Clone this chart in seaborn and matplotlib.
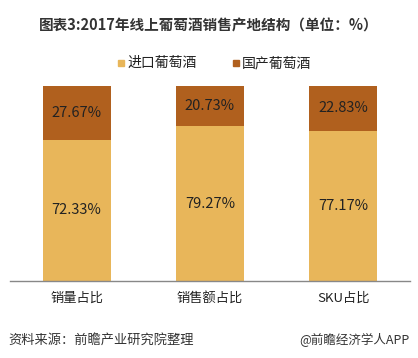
import pandas as pd
import matplotlib.pyplot as plt
import seaborn as sns

# data
categories = ["销量占比", "销售额占比", "SKU占比"]
imported = [72.33, 79.27, 77.17]
domestic = [27.67, 20.73, 22.83]

df = pd.DataFrame({"cat": categories, "imported": imported, "domestic": domestic})
df["total"] = df["imported"] + df["domestic"]

sns.set_style("white")
plt.rcParams["font.family"] = ["Noto Sans CJK SC", "DejaVu Sans"]

c_imp = "#E8B65A"
c_dom = "#B0601E"

fig = plt.figure(figsize=(4.18, 3.58), dpi=100)
ax = fig.add_axes([10 / 418, 77 / 358, 400 / 418, 195 / 358])

# stacked: draw total in domestic colour, then imported on top
sns.barplot(data=df, x="cat", y="total", color=c_dom, width=0.51, ax=ax,
            saturation=1, linewidth=0)
sns.barplot(data=df, x="cat", y="imported", color=c_imp, width=0.51, ax=ax,
            saturation=1, linewidth=0)

for i, row in df.iterrows():
    ax.text(i, row["imported"] / 2, f"{row['imported']:.2f}%", ha="center", va="center",
            fontsize=10.5, color="#222222")
    ax.text(i, row["imported"] + row["domestic"] / 2, f"{row['domestic']:.2f}%",
            ha="center", va="center", fontsize=10.5, color="#222222")

ax.set_xlim(-0.5, 2.5)
ax.set_ylim(0, 100)
ax.set_xlabel("")
ax.set_ylabel("")
ax.set_yticks([])
for s in ["top", "right", "left"]:
    ax.spines[s].set_visible(False)
ax.spines["bottom"].set_color("#888888")
ax.spines["bottom"].set_linewidth(1)
ax.tick_params(axis="x", length=0, pad=8, labelsize=9.5, colors="#222222")

# legend
fig.patches.append(plt.Rectangle((118 / 418, 1 - 66 / 358), 6 / 418, 6 / 358,
                                 transform=fig.transFigure, color=c_imp))
fig.text(127 / 418, 1 - 63 / 358, "进口葡萄酒", fontsize=10, va="center", color="#222222")
fig.patches.append(plt.Rectangle((233 / 418, 1 - 66 / 358), 6 / 418, 6 / 358,
                                 transform=fig.transFigure, color=c_dom))
fig.text(242 / 418, 1 - 63 / 358, "国产葡萄酒", fontsize=10, va="center", color="#222222")

# title and notes
fig.text(0.5, 1 - 25 / 358, "图表3:2017年线上葡萄酒销售产地结构（单位：%）", ha="center", va="center",
         fontsize=10.5, fontweight="bold", color="#333333")
fig.text(8 / 418, 1 - 340 / 358, "资料来源：前瞻产业研究院整理", ha="left", va="center",
         fontsize=9.5, style="italic", color="#333333")
fig.text(410 / 418, 1 - 340 / 358, "@前瞻经济学人APP", ha="right", va="center",
         fontsize=9, color="#333333")

fig.savefig("out.png", dpi=100)
